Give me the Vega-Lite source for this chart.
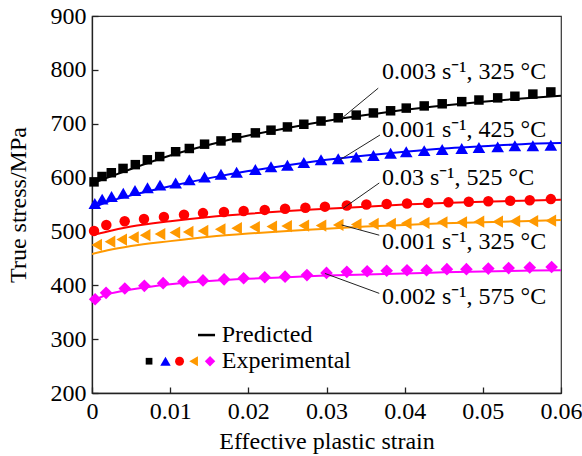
{
  "$schema": "https://vega.github.io/schema/vega-lite/v6.json",
  "width": 469,
  "height": 377,
  "autosize": "none",
  "padding": {"left": 92, "top": 16, "right": 21, "bottom": 63},
  "background": "white",
  "config": {
    "view": {"stroke": "#333", "strokeWidth": 1.2},
    "font": "Liberation Serif",
    "axis": {
      "grid": false,
      "domainColor": "#222",
      "domainWidth": 1.3,
      "tickColor": "#222",
      "tickSize": -6,
      "tickWidth": 1.3,
      "labelColor": "black",
      "titleColor": "black",
      "labelFont": "Liberation Serif",
      "titleFont": "Liberation Serif",
      "labelFontSize": 24,
      "titleFontSize": 24,
      "titleFontWeight": "normal"
    }
  },
  "resolve": {"scale": {"size": "independent"}},
  "datasets": {
    "exp": [
      {"c": "A", "strain": 0.00026, "stress": 592}, {"c": "A", "strain": 0.00128, "stress": 602}, {"c": "A", "strain": 0.00247, "stress": 609}, {"c": "A", "strain": 0.00397, "stress": 617}, {"c": "A", "strain": 0.00554, "stress": 624}, {"c": "A", "strain": 0.00708, "stress": 633}, {"c": "A", "strain": 0.00866, "stress": 639}, {"c": "A", "strain": 0.0107, "stress": 648}, {"c": "A", "strain": 0.01245, "stress": 654}, {"c": "A", "strain": 0.0144, "stress": 662}, {"c": "A", "strain": 0.0165, "stress": 668}, {"c": "A", "strain": 0.0185, "stress": 674}, {"c": "A", "strain": 0.0209, "stress": 683}, {"c": "A", "strain": 0.0229, "stress": 688}, {"c": "A", "strain": 0.025, "stress": 694}, {"c": "A", "strain": 0.0271, "stress": 699}, {"c": "A", "strain": 0.0293, "stress": 705}, {"c": "A", "strain": 0.0315, "stress": 711}, {"c": "A", "strain": 0.0338, "stress": 716}, {"c": "A", "strain": 0.036, "stress": 720}, {"c": "A", "strain": 0.0382, "stress": 724}, {"c": "A", "strain": 0.0402, "stress": 729}, {"c": "A", "strain": 0.0425, "stress": 733}, {"c": "A", "strain": 0.0448, "stress": 737}, {"c": "A", "strain": 0.0473, "stress": 741}, {"c": "A", "strain": 0.0495, "stress": 744}, {"c": "A", "strain": 0.0519, "stress": 748}, {"c": "A", "strain": 0.0541, "stress": 751}, {"c": "A", "strain": 0.0564, "stress": 755}, {"c": "A", "strain": 0.0587, "stress": 759},
      {"c": "B", "strain": 0.00036, "stress": 552}, {"c": "B", "strain": 0.0013, "stress": 560}, {"c": "B", "strain": 0.0025, "stress": 565}, {"c": "B", "strain": 0.004, "stress": 571}, {"c": "B", "strain": 0.0055, "stress": 576}, {"c": "B", "strain": 0.0071, "stress": 581}, {"c": "B", "strain": 0.0087, "stress": 586}, {"c": "B", "strain": 0.0107, "stress": 590}, {"c": "B", "strain": 0.01245, "stress": 596}, {"c": "B", "strain": 0.0144, "stress": 601}, {"c": "B", "strain": 0.0165, "stress": 606}, {"c": "B", "strain": 0.0185, "stress": 610}, {"c": "B", "strain": 0.0209, "stress": 615}, {"c": "B", "strain": 0.0229, "stress": 620}, {"c": "B", "strain": 0.025, "stress": 623}, {"c": "B", "strain": 0.0271, "stress": 628}, {"c": "B", "strain": 0.0293, "stress": 633}, {"c": "B", "strain": 0.0315, "stress": 635}, {"c": "B", "strain": 0.0338, "stress": 638}, {"c": "B", "strain": 0.036, "stress": 641}, {"c": "B", "strain": 0.0382, "stress": 645}, {"c": "B", "strain": 0.0402, "stress": 648}, {"c": "B", "strain": 0.0425, "stress": 650}, {"c": "B", "strain": 0.0448, "stress": 652}, {"c": "B", "strain": 0.0473, "stress": 654}, {"c": "B", "strain": 0.0495, "stress": 656}, {"c": "B", "strain": 0.0519, "stress": 657}, {"c": "B", "strain": 0.0541, "stress": 659}, {"c": "B", "strain": 0.0564, "stress": 659}, {"c": "B", "strain": 0.0587, "stress": 660},
      {"c": "C", "strain": 0.00026, "stress": 501}, {"c": "C", "strain": 0.00183, "stress": 512}, {"c": "C", "strain": 0.00418, "stress": 519}, {"c": "C", "strain": 0.00665, "stress": 523}, {"c": "C", "strain": 0.0092, "stress": 527}, {"c": "C", "strain": 0.01177, "stress": 531}, {"c": "C", "strain": 0.0142, "stress": 534}, {"c": "C", "strain": 0.01688, "stress": 536}, {"c": "C", "strain": 0.0194, "stress": 538}, {"c": "C", "strain": 0.0221, "stress": 540}, {"c": "C", "strain": 0.0247, "stress": 542}, {"c": "C", "strain": 0.0273, "stress": 544}, {"c": "C", "strain": 0.0298, "stress": 546}, {"c": "C", "strain": 0.0326, "stress": 548}, {"c": "C", "strain": 0.0351, "stress": 550}, {"c": "C", "strain": 0.0377, "stress": 551}, {"c": "C", "strain": 0.0403, "stress": 552}, {"c": "C", "strain": 0.043, "stress": 553}, {"c": "C", "strain": 0.0456, "stress": 554}, {"c": "C", "strain": 0.0482, "stress": 555}, {"c": "C", "strain": 0.0507, "stress": 556}, {"c": "C", "strain": 0.0535, "stress": 557}, {"c": "C", "strain": 0.056, "stress": 558}, {"c": "C", "strain": 0.0587, "stress": 560},
      {"c": "D", "strain": 0.0006, "stress": 475}, {"c": "D", "strain": 0.0023, "stress": 481}, {"c": "D", "strain": 0.0038, "stress": 485}, {"c": "D", "strain": 0.0053, "stress": 489}, {"c": "D", "strain": 0.0068, "stress": 493}, {"c": "D", "strain": 0.0087, "stress": 495}, {"c": "D", "strain": 0.0106, "stress": 498}, {"c": "D", "strain": 0.0123, "stress": 499}, {"c": "D", "strain": 0.0142, "stress": 501}, {"c": "D", "strain": 0.0164, "stress": 504}, {"c": "D", "strain": 0.0185, "stress": 506}, {"c": "D", "strain": 0.0208, "stress": 508}, {"c": "D", "strain": 0.023, "stress": 509}, {"c": "D", "strain": 0.0249, "stress": 510}, {"c": "D", "strain": 0.0271, "stress": 511}, {"c": "D", "strain": 0.0293, "stress": 511}, {"c": "D", "strain": 0.0315, "stress": 512}, {"c": "D", "strain": 0.0338, "stress": 513}, {"c": "D", "strain": 0.036, "stress": 514}, {"c": "D", "strain": 0.0382, "stress": 514}, {"c": "D", "strain": 0.0402, "stress": 515}, {"c": "D", "strain": 0.0425, "stress": 516}, {"c": "D", "strain": 0.0448, "stress": 517}, {"c": "D", "strain": 0.0473, "stress": 517}, {"c": "D", "strain": 0.0495, "stress": 518}, {"c": "D", "strain": 0.0519, "stress": 518}, {"c": "D", "strain": 0.0541, "stress": 519}, {"c": "D", "strain": 0.0564, "stress": 519}, {"c": "D", "strain": 0.0587, "stress": 520},
      {"c": "E", "strain": 0.0004, "stress": 374}, {"c": "E", "strain": 0.0018, "stress": 386}, {"c": "E", "strain": 0.0042, "stress": 394}, {"c": "E", "strain": 0.0067, "stress": 399}, {"c": "E", "strain": 0.0091, "stress": 404}, {"c": "E", "strain": 0.0117, "stress": 407}, {"c": "E", "strain": 0.0142, "stress": 409}, {"c": "E", "strain": 0.0169, "stress": 411}, {"c": "E", "strain": 0.0194, "stress": 413}, {"c": "E", "strain": 0.0221, "stress": 415}, {"c": "E", "strain": 0.0247, "stress": 416}, {"c": "E", "strain": 0.0275, "stress": 419}, {"c": "E", "strain": 0.03, "stress": 423}, {"c": "E", "strain": 0.0326, "stress": 425}, {"c": "E", "strain": 0.0352, "stress": 426}, {"c": "E", "strain": 0.0377, "stress": 427}, {"c": "E", "strain": 0.0403, "stress": 428}, {"c": "E", "strain": 0.0428, "stress": 428}, {"c": "E", "strain": 0.0454, "stress": 430}, {"c": "E", "strain": 0.0479, "stress": 430}, {"c": "E", "strain": 0.0507, "stress": 431}, {"c": "E", "strain": 0.0533, "stress": 432}, {"c": "E", "strain": 0.056, "stress": 433}, {"c": "E", "strain": 0.0588, "stress": 434}
    ],
    "pred": [
      {"c": "A", "strain": 0, "stress": 589}, {"c": "A", "strain": 0.002, "stress": 600}, {"c": "A", "strain": 0.005, "stress": 616}, {"c": "A", "strain": 0.01, "stress": 641}, {"c": "A", "strain": 0.015, "stress": 661}, {"c": "A", "strain": 0.02, "stress": 678}, {"c": "A", "strain": 0.025, "stress": 692}, {"c": "A", "strain": 0.03, "stress": 705}, {"c": "A", "strain": 0.035, "stress": 716}, {"c": "A", "strain": 0.04, "stress": 726}, {"c": "A", "strain": 0.045, "stress": 734}, {"c": "A", "strain": 0.05, "stress": 741}, {"c": "A", "strain": 0.055, "stress": 747}, {"c": "A", "strain": 0.06, "stress": 752},
      {"c": "B", "strain": 0, "stress": 543}, {"c": "B", "strain": 0.002, "stress": 555}, {"c": "B", "strain": 0.005, "stress": 567}, {"c": "B", "strain": 0.01, "stress": 584}, {"c": "B", "strain": 0.015, "stress": 599}, {"c": "B", "strain": 0.02, "stress": 612}, {"c": "B", "strain": 0.025, "stress": 623}, {"c": "B", "strain": 0.03, "stress": 633}, {"c": "B", "strain": 0.035, "stress": 641}, {"c": "B", "strain": 0.04, "stress": 648}, {"c": "B", "strain": 0.045, "stress": 654}, {"c": "B", "strain": 0.05, "stress": 658}, {"c": "B", "strain": 0.055, "stress": 662}, {"c": "B", "strain": 0.06, "stress": 664},
      {"c": "C", "strain": 0, "stress": 493}, {"c": "C", "strain": 0.002, "stress": 500}, {"c": "C", "strain": 0.005, "stress": 509}, {"c": "C", "strain": 0.01, "stress": 519}, {"c": "C", "strain": 0.015, "stress": 527}, {"c": "C", "strain": 0.02, "stress": 533}, {"c": "C", "strain": 0.025, "stress": 538}, {"c": "C", "strain": 0.03, "stress": 542}, {"c": "C", "strain": 0.035, "stress": 546}, {"c": "C", "strain": 0.04, "stress": 550}, {"c": "C", "strain": 0.045, "stress": 553}, {"c": "C", "strain": 0.05, "stress": 555}, {"c": "C", "strain": 0.055, "stress": 557}, {"c": "C", "strain": 0.06, "stress": 559},
      {"c": "D", "strain": 0, "stress": 458}, {"c": "D", "strain": 0.002, "stress": 465}, {"c": "D", "strain": 0.005, "stress": 473}, {"c": "D", "strain": 0.01, "stress": 482}, {"c": "D", "strain": 0.015, "stress": 490}, {"c": "D", "strain": 0.02, "stress": 496}, {"c": "D", "strain": 0.025, "stress": 501}, {"c": "D", "strain": 0.03, "stress": 505}, {"c": "D", "strain": 0.035, "stress": 509}, {"c": "D", "strain": 0.04, "stress": 512}, {"c": "D", "strain": 0.045, "stress": 515}, {"c": "D", "strain": 0.05, "stress": 517}, {"c": "D", "strain": 0.055, "stress": 519}, {"c": "D", "strain": 0.06, "stress": 521},
      {"c": "E", "strain": 0, "stress": 371}, {"c": "E", "strain": 0.002, "stress": 383}, {"c": "E", "strain": 0.005, "stress": 392}, {"c": "E", "strain": 0.01, "stress": 402}, {"c": "E", "strain": 0.015, "stress": 408}, {"c": "E", "strain": 0.02, "stress": 412}, {"c": "E", "strain": 0.025, "stress": 415}, {"c": "E", "strain": 0.03, "stress": 418}, {"c": "E", "strain": 0.035, "stress": 420}, {"c": "E", "strain": 0.04, "stress": 422}, {"c": "E", "strain": 0.045, "stress": 424}, {"c": "E", "strain": 0.05, "stress": 425.5}, {"c": "E", "strain": 0.055, "stress": 427}, {"c": "E", "strain": 0.06, "stress": 428}
    ],
    "labels": [
      {"label": "0.003 s⁻¹, 325 °C", "strain": 0.0371, "stress": 796},
      {"label": "0.001 s⁻¹, 425 °C", "strain": 0.0371, "stress": 688},
      {"label": "0.03 s⁻¹, 525 °C", "strain": 0.0371, "stress": 599},
      {"label": "0.001 s⁻¹, 325 °C", "strain": 0.0371, "stress": 481},
      {"label": "0.002 s⁻¹, 575 °C", "strain": 0.0371, "stress": 379}
    ],
    "leaders": [
      {"x1": 0.03662, "y1": 766, "x2": 0.03194, "y2": 710},
      {"x1": 0.03684, "y1": 679, "x2": 0.03172, "y2": 633},
      {"x1": 0.03675, "y1": 590, "x2": 0.03214, "y2": 543},
      {"x1": 0.03194, "y1": 512, "x2": 0.03675, "y2": 493},
      {"x1": 0.0298, "y1": 422, "x2": 0.03675, "y2": 385}
    ],
    "legendSymbols": [
      {"c": "A", "strain": 0.0073, "stress": 259},
      {"c": "B", "strain": 0.0094, "stress": 259},
      {"c": "C", "strain": 0.0112, "stress": 259},
      {"c": "D", "strain": 0.013, "stress": 259},
      {"c": "E", "strain": 0.0151, "stress": 259}
    ],
    "legendLine": [{"x1": 0.01356, "x2": 0.01574, "stress": 307.6}],
    "legendText": [
      {"label": "Predicted", "strain": 0.0166, "stress": 307.6},
      {"label": "Experimental", "strain": 0.0166, "stress": 259}
    ]
  },
  "layer": [
    {
      "data": {"name": "pred"},
      "mark": {"type": "line", "strokeWidth": 2, "interpolate": "monotone", "clip": true},
      "encoding": {
        "x": {"field": "strain", "type": "quantitative", "scale": {"domain": [0, 0.06], "nice": false, "zero": false},
          "axis": {"title": "Effective plastic strain", "values": [0, 0.01, 0.02, 0.03, 0.04, 0.05, 0.06], "labelExpr": "datum.value == 0 ? '0' : format(datum.value, '.2f')", "labelPadding": 12, "titlePadding": 6, "labelFlush": false}},
        "y": {"field": "stress", "type": "quantitative", "scale": {"domain": [200, 900], "nice": false, "zero": false},
          "axis": {"title": "True stress/MPa", "values": [200, 300, 400, 500, 600, 700, 800, 900], "labelPadding": 12, "titlePadding": 20}},
        "color": {"field": "c", "type": "nominal", "scale": {"domain": ["A", "B", "C", "D", "E"], "range": ["#000000", "#0000FF", "#FF0000", "#FF9900", "#FF00FF"]}, "legend": null},
        "detail": {"field": "c"}
      }
    },
    {
      "data": {"name": "exp"},
      "mark": {"type": "point", "filled": true, "opacity": 1},
      "encoding": {
        "x": {"field": "strain", "type": "quantitative"},
        "y": {"field": "stress", "type": "quantitative"},
        "color": {"field": "c", "type": "nominal", "legend": null},
        "shape": {"field": "c", "type": "nominal", "scale": {"domain": ["A", "B", "C", "D", "E"], "range": ["square", "triangle-up", "circle", "triangle-left", "diamond"]}, "legend": null},
        "size": {"field": "c", "type": "nominal", "scale": {"type": "ordinal", "domain": ["A", "B", "C", "D", "E"], "range": [90, 160, 110, 150, 160]}, "legend": null}
      }
    },
    {
      "data": {"name": "legendSymbols"},
      "mark": {"type": "point", "filled": true, "opacity": 1},
      "encoding": {
        "x": {"field": "strain", "type": "quantitative"},
        "y": {"field": "stress", "type": "quantitative"},
        "color": {"field": "c", "type": "nominal", "legend": null},
        "shape": {"field": "c", "type": "nominal", "legend": null},
        "size": {"field": "c", "type": "nominal", "scale": {"type": "ordinal", "domain": ["A", "B", "C", "D", "E"], "range": [45, 110, 80, 100, 110]}, "legend": null}
      }
    },
    {
      "data": {"name": "legendLine"},
      "mark": {"type": "rule", "color": "black", "strokeWidth": 2.5},
      "encoding": {
        "x": {"field": "x1", "type": "quantitative"},
        "x2": {"field": "x2"},
        "y": {"field": "stress", "type": "quantitative"}
      }
    },
    {
      "data": {"name": "legendText"},
      "mark": {"type": "text", "align": "left", "baseline": "middle", "font": "Liberation Serif", "fontSize": 24, "color": "black"},
      "encoding": {
        "x": {"field": "strain", "type": "quantitative"},
        "y": {"field": "stress", "type": "quantitative"},
        "text": {"field": "label"}
      }
    },
    {
      "data": {"name": "leaders"},
      "mark": {"type": "rule", "color": "#222", "strokeWidth": 1},
      "encoding": {
        "x": {"field": "x1", "type": "quantitative"},
        "x2": {"field": "x2"},
        "y": {"field": "y1", "type": "quantitative"},
        "y2": {"field": "y2"}
      }
    },
    {
      "data": {"name": "labels"},
      "mark": {"type": "text", "align": "left", "baseline": "middle", "font": "Liberation Serif", "fontSize": 24, "color": "black"},
      "encoding": {
        "x": {"field": "strain", "type": "quantitative"},
        "y": {"field": "stress", "type": "quantitative"},
        "text": {"field": "label"}
      }
    }
  ]
}
